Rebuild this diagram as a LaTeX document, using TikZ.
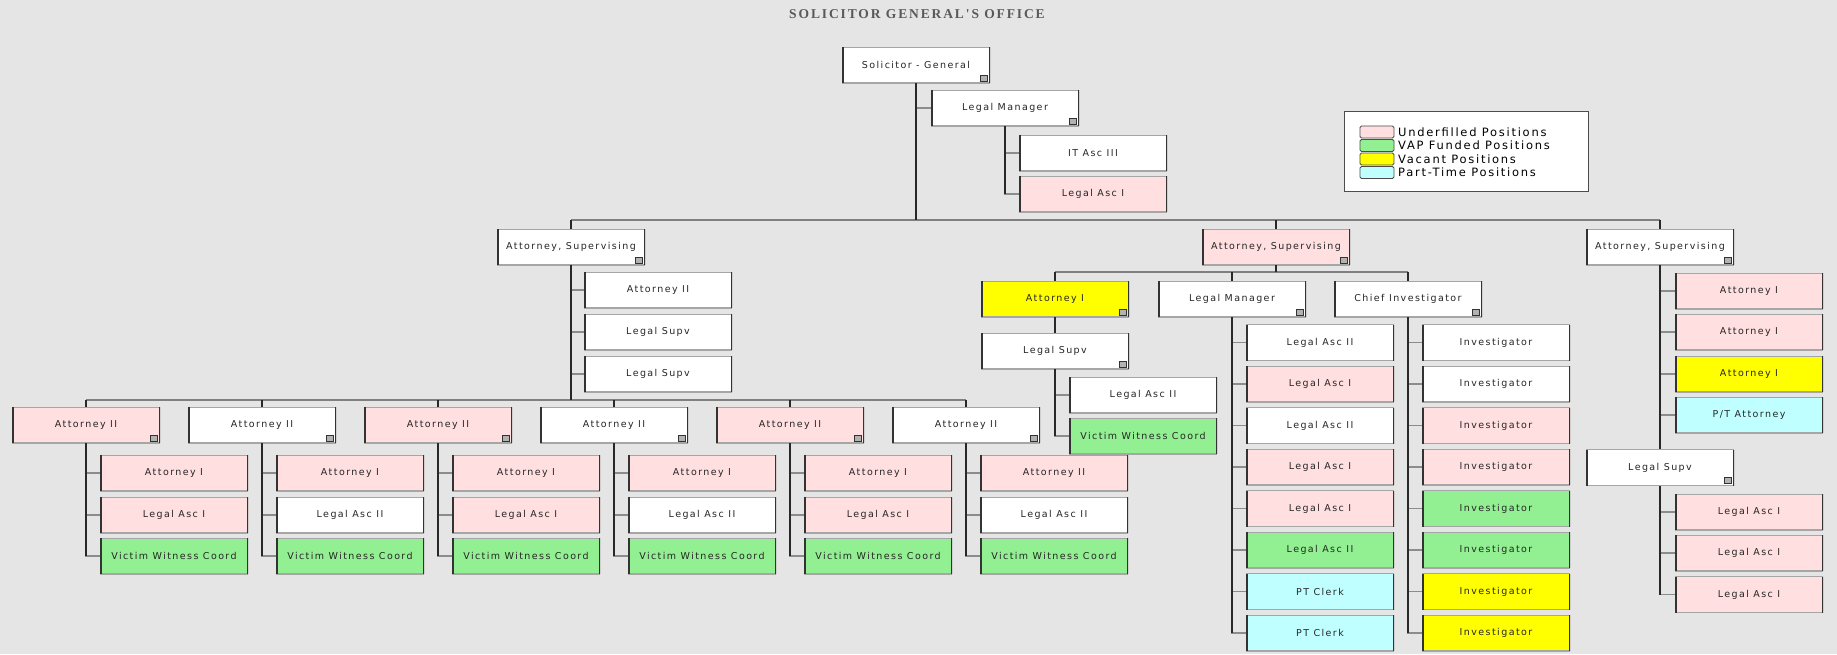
\documentclass[tikz,border=0pt]{standalone}
\usepackage{fontspec}
\usetikzlibrary{positioning}

\newfontfamily\boxfont[LetterSpace=15]{DejaVu Sans}
\newfontfamily\titlefont[LetterSpace=14]{Liberation Serif}

\definecolor{bggray}{RGB}{229,229,229}
\definecolor{underfill}{RGB}{255,223,223}
\definecolor{vapgreen}{RGB}{146,240,146}
\definecolor{vacant}{RGB}{255,255,0}
\definecolor{parttime}{RGB}{192,255,255}
\definecolor{linkgray}{RGB}{40,40,40}

\newcommand\postframe{
	\draw[black!35,line width=1.8pt](path picture bounding box.north west)--(path picture bounding box.north east)
		(path picture bounding box.south west)--(path picture bounding box.south east);
	\draw[black!80,line width=3pt](path picture bounding box.north west)--(path picture bounding box.south west)
		(path picture bounding box.north east)--(path picture bounding box.south east);
}
\newcommand\posticon{
	\draw[black!80,fill=black!30,line width=0.6pt]([shift={(-10pt,2pt)}]path picture bounding box.south east) rectangle ++(7pt,6pt);
}

\tikzset{
  post/.style={line width=0.9pt,fill=white,minimum width=148pt,minimum height=36pt,inner sep=0pt,
    font=\boxfont\fontsize{9.5}{11}\selectfont,text=black!85,path picture={\postframe}},
  head/.style={post,path picture={\postframe\posticon}},
  trunk/.style={draw=linkgray,line width=1.6pt},
  stub/.style={draw=black!45,line width=1.2pt},
  bus/.style={draw=black!50,line width=2pt},
  swatch/.style={draw=black!70,line width=0.8pt,minimum width=34pt,minimum height=12pt,inner sep=0pt,rounded corners=1.5pt}
}

\begin{document}
\begin{tikzpicture}[x=1pt,y=-1pt]
\fill[bggray](0,0)rectangle(1837,654);
\useasboundingbox(0,0)rectangle(1837,654);

\node[font=\titlefont\bfseries\fontsize{13.5}{15}\selectfont,text=black!65](title) at (917,14) {SOLICITOR GENERAL'S OFFICE};

\node[head](sg) at (916,65) {Solicitor - General};
\node[head](lm) at (1005,108) {Legal Manager};
\node[post](itasc) at (1093,153) {IT Asc III};
\node[post,fill=underfill](lasc) at (1093,194) {Legal Asc I};
\coordinate(bus) at (916,220);

\node[draw=black!70,line width=1pt,fill=white,minimum width=244pt,minimum height=80pt](legend) at (1466,151) {};
\foreach[count=\c] \col/\txt in {underfill/Underfilled Positions,vapgreen/VAP Funded Positions,vacant/Vacant Positions,parttime/Part-Time Positions}{
	\node[swatch,fill=\col](sw\c) at (1377,{118.5+13.5*\c}) {};
	\node[anchor=west,inner sep=0pt,font=\boxfont\fontsize{11.5}{13}\selectfont](lg\c) at (1398,{118.5+13.5*\c}) {\txt};
}

\foreach[count=\c] \x/\col in {571/white,1276/underfill,1660/white}
	\node[head,fill=\col](sup\c) at (\x,247) {Attorney, Supervising};

\draw[stub](sg.south)|-(lm.west);
\foreach \n in {itasc,lasc}
	\draw[stub](lm.south)|-(\n.west);
\draw[trunk](lm.south)--(lm.south|-lasc.west);
\draw[bus](sup1.north|-bus)--(sup3.north|-bus);
\draw[trunk](sg)--(bus);
\foreach \c in {1,2,3}
	\draw[trunk](sup\c)--(sup\c.north|-bus);

\foreach[count=\c] \t/\y in {Attorney II/290,Legal Supv/332,Legal Supv/374}{
	\node[post](l\c) at (658,\y) {\t};
	\draw[stub](sup1.south)|-(l\c.west);
}
\coordinate(bus1) at (571,400);

\foreach[count=\i] \col/\ta/\tb/\cb in {underfill/I/I/underfill,white/I/II/white,underfill/I/I/underfill,white/I/II/white,underfill/I/I/underfill,white/II/II/white}{
	\node[head,fill=\col](aii\i) at ({86+176*(\i-1)},425) {Attorney II};
	\node[post,fill=underfill](att\i) at ({174+176*(\i-1)},473) {Attorney \ta};
	\node[post,fill=\cb](asc\i) at ({174+176*(\i-1)},515) {Legal Asc \tb};
	\node[post,fill=vapgreen](vwc\i) at ({174+176*(\i-1)},556) {Victim Witness Coord};
	\foreach \n in {att,asc,vwc}
		\draw[stub](aii\i.south)|-(\n\i.west);
	\draw[trunk](aii\i.south)--(aii\i.south|-vwc\i.west);
}
\draw[bus](aii1.north|-bus1)--(aii6.north|-bus1);
\draw[trunk](sup1)--(bus1);
\foreach \i in {1,...,6}
	\draw[trunk](aii\i)--(aii\i.north|-bus1);

\coordinate(bus2) at (1276,272);
\foreach \x/\t/\col/\nm in {1055/Attorney I/vacant/ma,1232/Legal Manager/white/mlm,1408/Chief Investigator/white/mci}
	\node[head,fill=\col](\nm) at (\x,299) {\t};
\draw[bus](ma.north|-bus2)--(mci.north|-bus2);
\draw[trunk](sup2)--(bus2);
\foreach \nm in {ma,mlm,mci}
	\draw[trunk](\nm)--(\nm.north|-bus2);

\node[head](mls) at (1055,351) {Legal Supv};
\draw[trunk](ma)--(mls);
\node[post](mla) at (1143,395) {Legal Asc II};
\node[post,fill=vapgreen](mvw) at (1143,436) {Victim Witness Coord};
\foreach \n in {mla,mvw}
	\draw[stub](mls.south)|-(\n.west);
\draw[trunk](mls.south)--(mls.south|-mvw.west);

\foreach[count=\k] \t/\col in {Legal Asc II/white,Legal Asc I/underfill,Legal Asc II/white,Legal Asc I/underfill,Legal Asc I/underfill,Legal Asc II/vapgreen,PT Clerk/parttime,PT Clerk/parttime}{
	\node[post,fill=\col](mlm\k) at (1320,{342.5+41.5*(\k-1)}) {\t};
	\draw[stub](mlm.south)|-(mlm\k.west);
}
\draw[trunk](mlm.south)--(mlm.south|-mlm8.west);
\foreach[count=\k] \col in {white,white,underfill,underfill,vapgreen,vapgreen,vacant,vacant}{
	\node[post,fill=\col](inv\k) at (1496,{342.5+41.5*(\k-1)}) {Investigator};
	\draw[stub](mci.south)|-(inv\k.west);
}
\draw[trunk](mci.south)--(mci.south|-inv8.west);

\foreach[count=\k] \t/\col/\y in {Attorney I/underfill/291,Attorney I/underfill/332,Attorney I/vacant/374,{P/T Attorney}/parttime/415}{
	\node[post,fill=\col](r\k) at (1749,\y) {\t};
	\draw[stub](sup3.south)|-(r\k.west);
}
\node[head](rls) at (1660,467.5) {Legal Supv};
\foreach[count=\k] \y in {512,553,594.5}{
	\node[post,fill=underfill](rla\k) at (1749,\y) {Legal Asc I};
	\draw[stub](rls.south)|-(rla\k.west);
}
\draw[trunk](sup3)--(rls);
\draw[trunk](rls.south)--(rls.south|-rla3.west);
\draw[trunk](sup1.south)--(sup1.south|-bus1);
\end{tikzpicture}
\end{document}
